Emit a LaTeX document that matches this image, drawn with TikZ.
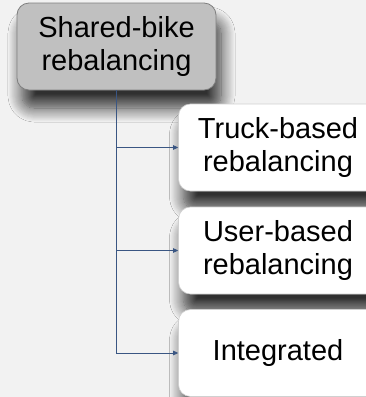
\documentclass[tikz,border=0pt]{standalone}
\usepackage{fontspec}
\setmainfont{Liberation Sans}
\usetikzlibrary{positioning, arrows.meta, shadows.blur}

\definecolor{fon}{HTML}{F2F2F2}
\definecolor{kornevoy}{HTML}{C0C0C0}
\definecolor{kraykorn}{HTML}{7F7F7F}
\definecolor{kraydoch}{HTML}{D0D0D0}
\definecolor{liniya}{HTML}{3A5683}

\tikzset{
	box/.style={rounded corners=12pt, minimum width=199pt, minimum height=87pt,
		align=center, inner sep=2pt, font=\fontsize{29}{33}\selectfont,
		blur shadow={shadow xshift=5pt, shadow yshift=-18pt, shadow blur radius=14pt,
			shadow opacity=80, shadow blur steps=14}},
	rootbox/.style={box, fill=kornevoy, draw=kraykorn, line width=0.8pt},
	leafbox/.style={box, fill=white, draw=kraydoch, line width=0.6pt},
	link/.style={liniya, line width=0.8pt, -{Triangle[length=5pt,width=4.5pt]}}
}

\begin{document}
\begin{tikzpicture}[x=1pt, y=-1pt]
				% Фон
				\fill[fon] (0,0) rectangle (366,397);
				\useasboundingbox (0,0) rectangle (366,397);
				
				% Блоки
				\node[rootbox] (root) at (116.5,46.5) {Shared-bike\\rebalancing};
				\node[leafbox] (truck) at (278,147.5) {Truck-based\\rebalancing};
				\node[leafbox] (user) at (278,250.5) {User-based\\rebalancing};
				\node[leafbox] (integ) at (278,353) {Integrated};
				
				% Связи
				\draw[link] (root.south) |- (truck.west);
				\draw[link] (root.south) |- (user.west);
				\draw[link] (root.south) |- (integ.west);
			\end{tikzpicture}
\end{document}
